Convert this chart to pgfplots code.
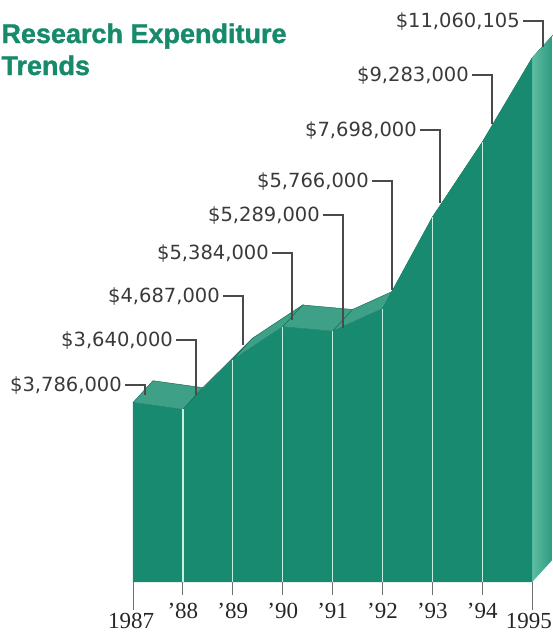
\documentclass[border=0pt]{standalone}
\usepackage{pgfplots}
\pgfplotsset{compat=1.18}
\usepackage{pgfplotstable}
\usepackage{fontspec}
\setmainfont{Liberation Serif}
\newfontfamily\labfont{DejaVu Sans}
\newfontfamily\titlefont[FakeBold=1.3]{Liberation Sans}
\definecolor{frontc}{HTML}{178A6F}
\definecolor{topc}{HTML}{3EA187}
\definecolor{topd}{HTML}{2F957B}
\definecolor{edgec}{HTML}{1E6F5C}
\definecolor{gridc}{HTML}{C4EFE3}
\definecolor{tickc}{HTML}{707070}
\definecolor{leadc}{HTML}{4A4A4A}
\definecolor{titlec}{HTML}{168A6A}
\definecolor{labc}{HTML}{3A3A3A}
\definecolor{sidel}{HTML}{5DBDA2}
\definecolor{sidem}{HTML}{C2EBDF}
\definecolor{sider}{HTML}{2F9A7F}

\pgfplotstableread{
year value
1987 3.786
1988 3.640
1989 4.687
1990 5.384
1991 5.289
1992 5.766
1993 7.698
1994 9.283
1995 11.060105
}\datatable

\begin{document}
\begin{tikzpicture}
\begin{axis}[
  x=49.9pt, y=47.4pt,
  xmin=1987, xmax=1995, ymin=0, ymax=11.06,
  hide axis, clip=false,
  unbounded coords=jump,
]
% top faces (depth offset 0.40 yr, 0.46 M)
\addplot[fill=topc, draw=edgec, line width=0.5pt] coordinates {(1987,3.786) (1988,3.640) (1988.40,4.100) (1987.40,4.246) (1987,3.786)};
\addplot[fill=topd, draw=edgec, line width=0.5pt] coordinates {(1988,3.640) (1989,4.687) (1989.40,5.147) (1988.40,4.100) (1988,3.640)};
\addplot[fill=topc, draw=edgec, line width=0.5pt] coordinates {(1989,4.687) (1990,5.384) (1990.40,5.844) (1989.40,5.147) (1989,4.687)};
\addplot[fill=topc, draw=edgec, line width=0.5pt] coordinates {(1990,5.384) (1991,5.289) (1991.40,5.749) (1990.40,5.844) (1990,5.384)};
\addplot[fill=topc, draw=edgec, line width=0.5pt] coordinates {(1991,5.289) (1992,5.766) (1992.40,6.226) (1991.40,5.749) (1991,5.289)};
\addplot[fill=topd, draw=edgec, line width=0.5pt] coordinates {(1992,5.766) (1993,7.698) (1993.40,8.158) (1992.40,6.226) (1992,5.766)};
\addplot[fill=topd, draw=edgec, line width=0.5pt] coordinates {(1993,7.698) (1994,9.283) (1994.40,9.743) (1993.40,8.158) (1993,7.698)};
\addplot[fill=topd, draw=edgec, line width=0.5pt] coordinates {(1994,9.283) (1995,11.060105) (1995.40,11.520) (1994.40,9.743) (1994,9.283)};
% right side face
\addplot[draw=none, left color=sidel, middle color=sidem, right color=sider] coordinates {(1995,0) (1995,11.060105) (1995.40,11.520) (1995.40,0.46) (1995,0)};
% front face
\addplot[fill=frontc, draw=none] table[x=year, y=value] {\datatable} \closedcycle;
% year lines on the face
\addplot[draw=gridc, line width=1.3pt] coordinates {
 (1988,0) (1988,3.640) (1988,nan)
 (1989,0) (1989,4.687) (1989,nan)
 (1990,0) (1990,5.384) (1990,nan)
 (1991,0) (1991,5.289) (1991,nan)
 (1992,0) (1992,5.766) (1992,nan)
 (1993,0) (1993,7.698) (1993,nan)
 (1994,0) (1994,9.283)};
% ticks below
\addplot[draw=tickc, line width=0.9pt] coordinates {
 (1987,0) (1987,-0.60) (1987,nan)
 (1988,0) (1988,-0.274) (1988,nan)
 (1989,0) (1989,-0.274) (1989,nan)
 (1990,0) (1990,-0.274) (1990,nan)
 (1991,0) (1991,-0.274) (1991,nan)
 (1992,0) (1992,-0.274) (1992,nan)
 (1993,0) (1993,-0.274) (1993,nan)
 (1994,0) (1994,-0.274) (1994,nan)
 (1995,0) (1995,-0.60)};
% leader lines
\addplot[draw=leadc, line width=1.1pt] coordinates {
 (1986.840,4.156) (1987.240,4.156) (1987.240,3.945) (1987.240,nan)
 (1987.863,5.105) (1988.263,5.105) (1988.263,3.945) (1988.263,nan)
 (1988.804,6.034) (1989.204,6.034) (1989.204,5.000) (1989.204,nan)
 (1989.786,6.941) (1990.186,6.941) (1990.186,5.530) (1990.186,nan)
 (1990.808,7.743) (1991.208,7.743) (1991.208,5.360) (1991.208,nan)
 (1991.790,8.460) (1992.190,8.460) (1992.190,6.160) (1992.190,nan)
 (1992.752,9.536) (1993.152,9.536) (1993.152,8.000) (1993.152,nan)
 (1993.794,10.696) (1994.194,10.696) (1994.194,9.660) (1994.194,nan)
 (1994.816,11.835) (1995.216,11.835) (1995.216,11.290)};
% value labels
\begin{scope}[every node/.style={anchor=base east, inner sep=0pt, xshift=-3pt, yshift=-6.9pt, text=labc, font=\labfont\fontsize{19.5}{22}\selectfont}]
\node at (axis cs:1986.840,4.156) {\$3,786,000};
\node at (axis cs:1987.863,5.105) {\$3,640,000};
\node at (axis cs:1988.804,6.034) {\$4,687,000};
\node at (axis cs:1989.786,6.941) {\$5,384,000};
\node at (axis cs:1990.808,7.743) {\$5,289,000};
\node at (axis cs:1991.790,8.460) {\$5,766,000};
\node at (axis cs:1992.752,9.536) {\$7,698,000};
\node at (axis cs:1993.794,10.696) {\$9,283,000};
\node at (axis cs:1994.816,11.835) {\$11,060,105};
\end{scope}
% year labels
\begin{scope}[every node/.style={anchor=base, inner sep=0pt, text=black!85, font=\fontsize{23}{26}\selectfont}]
\node at (axis cs:1986.96,-0.99) {1987};
\node at (axis cs:1988,-0.76) {'88};
\node at (axis cs:1989,-0.76) {'89};
\node at (axis cs:1990,-0.76) {'90};
\node at (axis cs:1991,-0.76) {'91};
\node at (axis cs:1992,-0.76) {'92};
\node at (axis cs:1993,-0.76) {'93};
\node at (axis cs:1994,-0.76) {'94};
\node[anchor=base east] at (axis cs:1995.40,-0.99) {1995};
\end{scope}
% title
\node[anchor=base west, inner sep=0pt, text=titlec, font=\titlefont\bfseries\fontsize{27}{32}\selectfont] at (axis cs:1984.36,11.371) {Research Expenditure};
\node[anchor=base west, inner sep=0pt, text=titlec, font=\titlefont\bfseries\fontsize{27}{32}\selectfont] at (axis cs:1984.36,10.696) {Trends};
\coordinate (bl) at (axis cs:1984.3347,-1.1181);
\coordinate (tr) at (axis cs:1995.4168,12.2785);
\end{axis}
\pgfresetboundingbox
\path[use as bounding box] (bl) rectangle (tr);
\end{tikzpicture}
\end{document}
